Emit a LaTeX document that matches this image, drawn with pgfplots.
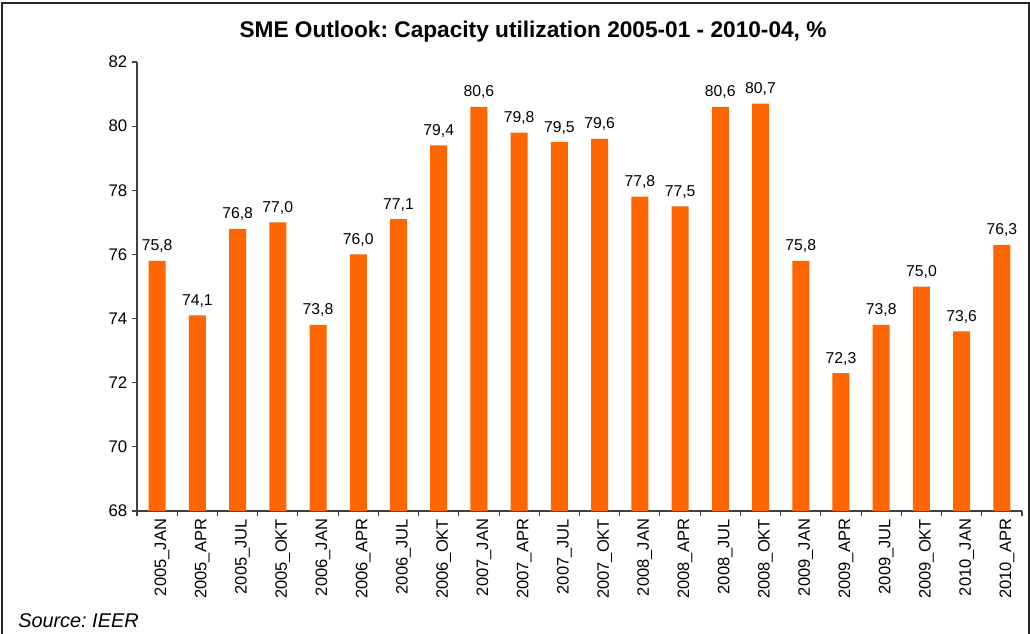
\documentclass[border=0pt]{standalone}
\usepackage{pgfplots}
\pgfplotsset{compat=1.18}
\usepackage{fontspec}
\setmainfont{Liberation Sans}
\frenchspacing
\definecolor{barorange}{HTML}{FF6600}
\definecolor{axisgray}{HTML}{404040}
\begin{document}
\begin{tikzpicture}
\useasboundingbox (0pt,0pt) rectangle (772.5pt,-474.75pt);
\draw[line width=1.5pt, color=black!85] (1.5pt,-480pt) -- (1.5pt,-2.25pt) -- (771.4pt,-2.25pt) -- (771.4pt,-480pt);
\node[anchor=base, font=\bfseries\fontsize{17}{20}\selectfont] at (399.75pt,-27.75pt) {SME Outlook: Capacity utilization 2005-01 - 2010-04, \%};
\node[anchor=base west, inner sep=0pt, font=\itshape\fontsize{14.9}{17}\selectfont] at (13.5pt,-470.25pt) {Source: IEER};
\begin{axis}[
  at={(102.75pt,-383.25pt)}, anchor=south west,
  scale only axis,
  width=663.75pt, height=336.75pt,
  xmin=-0.5, xmax=21.5,
  ymin=68, ymax=82,
  ytick={68,70,...,82},
  xtick={0,...,21},
  xticklabels={2005\_JAN,2005\_APR,2005\_JUL,2005\_OKT,2006\_JAN,2006\_APR,2006\_JUL,2006\_OKT,2007\_JAN,2007\_APR,2007\_JUL,2007\_OKT,2008\_JAN,2008\_APR,2008\_JUL,2008\_OKT,2009\_JAN,2009\_APR,2009\_JUL,2009\_OKT,2010\_JAN,2010\_APR},
  minor xtick={-0.5,0.5,...,21.5},
  axis x line*=bottom, axis y line*=left,
  axis line style={color=axisgray, line width=0.8pt},
  tick align=outside,
  major tick length=3.75pt,
  minor tick length=3.75pt,
  x tick style={draw=none},
  minor x tick style={draw=axisgray, line width=0.8pt},
  y tick style={color=axisgray, line width=0.8pt},
  xticklabel style={rotate=90, anchor=east, font=\fontsize{12.4}{14}\selectfont, inner sep=2pt, yshift=-3.75pt},
  yticklabel style={font=\fontsize{12.6}{14}\selectfont},
  /pgf/number format/assume math mode=true,
  ybar, bar width=12.75pt,
  clip=false,
  nodes near coords,
  nodes near coords style={anchor=base, yshift=7.5pt, inner sep=0pt, font=\fontsize{11.8}{14}\selectfont,
    /pgf/number format/.cd, fixed, fixed zerofill, precision=1, use comma, assume math mode=true},
]
\addplot[fill=barorange, draw=none] coordinates {
(0,75.8) (1,74.1) (2,76.8) (3,77.0) (4,73.8) (5,76.0) (6,77.1) (7,79.4) (8,80.6) (9,79.8) (10,79.5)
(11,79.6) (12,77.8) (13,77.5) (14,80.6) (15,80.7) (16,75.8) (17,72.3) (18,73.8) (19,75.0) (20,73.6) (21,76.3)
};
\end{axis}
\end{tikzpicture}
\end{document}
